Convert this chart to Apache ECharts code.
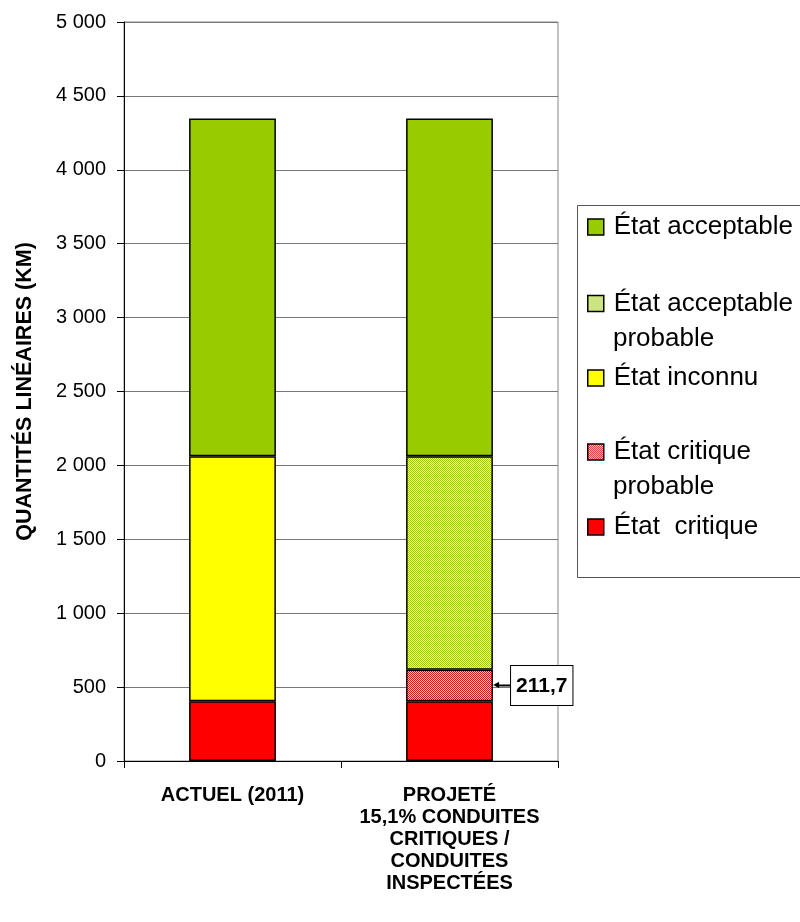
<!DOCTYPE html>
<html>
<head>
<meta charset="utf-8">
<script src="https://cdn.jsdelivr.net/npm/echarts@6/dist/echarts.min.js"></script>
<style>
html,body{margin:0;padding:0;background:#fff;}
#chart{width:800px;height:922px;}
</style>
</head>
<body>
<div id="chart"></div>
<script>
// ---- Data ----
var categories = ['ACTUEL (2011)', 'PROJETÉ\n15,1% CONDUITES\nCRITIQUES /\nCONDUITES\nINSPECTÉES'];
var seriesNames = ['État acceptable', 'État acceptable probable', 'État inconnu', 'État critique probable', 'État  critique'];
var legendFirstLines = ['État acceptable', 'État acceptable', 'État inconnu', 'État critique', 'État  critique'];
var legendSecondLines = ['', 'probable', '', 'probable', ''];
var critique = [405, 405];
var critiqueProbable = ['-', 211.7];
var inconnu = [1657, '-'];
var acceptableProbable = ['-', 1445];
var acceptable = [2285, 2285];
var yTicks = { min: 0, max: 5000, interval: 500 };

// ---- Patterns ----
function checker(c1, c2) {
  var cv = document.createElement('canvas');
  cv.width = 2; cv.height = 2;
  var ctx = cv.getContext('2d');
  ctx.fillStyle = c2; ctx.fillRect(0, 0, 2, 2);
  ctx.fillStyle = c1; ctx.fillRect(0, 0, 1, 1); ctx.fillRect(1, 1, 1, 1);
  return { image: cv, repeat: 'repeat' };
}

var FONT = '"Liberation Sans", Arial, sans-serif';
var seriesColors = {
  'État acceptable': '#99cc00',
  'État acceptable probable': checker('#99cc00', '#ffffff'),
  'État inconnu': '#ffff00',
  'État critique probable': checker('#ff0000', '#ffffff'),
  'État  critique': '#ff0000'
};
var legendColors = {
  'État acceptable': '#99cc00',
  'État acceptable probable': checker('#99cc00', '#ffffff'),
  'État inconnu': '#ffff00',
  'État critique probable': checker('#ff0000', '#ffffff'),
  'État  critique': '#ff0000'
};

function bar(name, data, extra) {
  var s = {
    name: name, type: 'bar', stack: 'total', data: data, barWidth: '40%',
    itemStyle: { color: seriesColors[name], borderColor: '#000', borderWidth: 1.5 },
    emphasis: { disabled: true }
  };
  return Object.assign(s, extra || {});
}

var series = [
  bar(seriesNames[4], critique),
  bar(seriesNames[3], critiqueProbable, {
    label: {
      show: true, position: 'right', distance: 0,
      formatter: function (p) { return '{h|◀}{s| }{b|' + String(p.value).replace('.', ',') + '}'; },
      rich: {
        h: { fontFamily: '"DejaVu Sans", sans-serif', fontSize: 8, color: '#000', verticalAlign: 'middle', padding: [0, 0, 1, 0] },
        s: { fontSize: 2, width: 12, height: 2, lineHeight: 2, backgroundColor: '#000', verticalAlign: 'middle' },
        b: { fontFamily: FONT, fontWeight: 'bold', fontSize: 21, color: '#000', backgroundColor: '#fff',
             borderColor: '#000', borderWidth: 1, padding: [10, 5, 8, 5], verticalAlign: 'middle' }
      }
    }
  }),
  bar(seriesNames[2], inconnu),
  bar(seriesNames[1], acceptableProbable),
  bar(seriesNames[0], acceptable)
];

// ---- Legends (one per item, Excel-like spacing) ----
var legendCenters = [227, 303.5, 378, 452, 527];
var legends = seriesNames.map(function (n, i) {
  return {
    data: [{ name: n, itemStyle: { color: legendColors[n], borderColor: '#000', borderWidth: 1.5 } }],
    orient: 'vertical', left: 587, top: legendCenters[i] - 15.5,
    padding: 0, itemWidth: 16, itemHeight: 16, icon: 'rect', selectedMode: false,
    formatter: function () { return legendFirstLines[i]; },
    textStyle: { fontFamily: FONT, fontSize: 26, color: '#000', lineHeight: 31, padding: [0, 0, 0, 5] }
  };
});

var graphics = [
  { type: 'rect', shape: { x: 577.5, y: 205.5, width: 240, height: 372 }, style: { fill: 'none', stroke: '#555', lineWidth: 1 }, z: 0, silent: true }
];
legendSecondLines.forEach(function (t, i) {
  if (!t) return;
  graphics.push({
    type: 'text', left: 613, top: legendCenters[i] + 35 - 15.5, silent: true,
    style: { text: t, fontFamily: FONT, fontSize: 26, fill: '#000', lineHeight: 31 }
  });
});

var chart = echarts.init(document.getElementById('chart'), null, { renderer: 'canvas' });
chart.setOption({
  animation: false,
  backgroundColor: '#fff',
  grid: { left: 124, right: 242, top: 22, bottom: 161, show: true, borderColor: '#888', borderWidth: 1, containLabel: false },
  legend: legends,
  xAxis: {
    type: 'category', data: categories,
    axisLine: { lineStyle: { color: '#000', width: 1 } },
    axisTick: { show: true, length: 7, lineStyle: { color: '#000' } },
    axisLabel: { fontFamily: FONT, fontWeight: 'bold', fontSize: 20, color: '#000', lineHeight: 22, margin: 23, interval: 0, align: 'center' }
  },
  yAxis: {
    type: 'value', min: yTicks.min, max: yTicks.max, interval: yTicks.interval,
    name: 'QUANTITÉS LINÉAIRES (KM)', nameLocation: 'middle', nameGap: 88,
    nameTextStyle: { fontFamily: FONT, fontWeight: 'bold', fontSize: 21.5, color: '#000' },
    axisLine: { show: true, lineStyle: { color: '#000', width: 1 } },
    axisTick: { show: true, length: 7, inside: false, lineStyle: { color: '#000' } },
    axisLabel: {
      fontFamily: FONT, fontSize: 20, color: '#000', margin: 18,
      formatter: function (v) { return String(v).replace(/\B(?=(\d{3})+(?!\d))/g, ' '); }
    },
    splitLine: { show: true, lineStyle: { color: '#777', width: 1 } }
  },
  graphic: graphics,
  series: series
});
</script>
</body>
</html>
